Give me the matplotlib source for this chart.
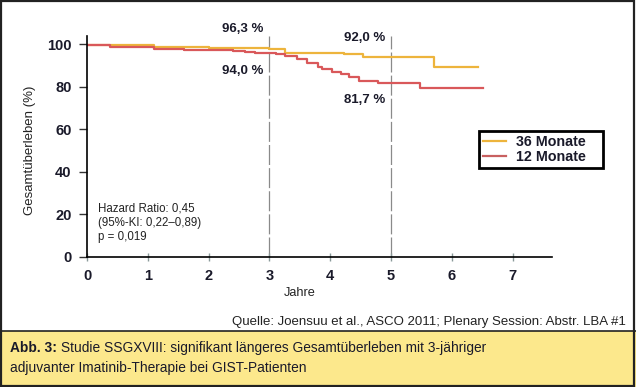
import matplotlib
matplotlib.use("Agg")
import matplotlib.pyplot as plt
from matplotlib import font_manager
from matplotlib.patches import Rectangle
from matplotlib.lines import Line2D

# Kaplan-Meier Stufen (Jahre, Gesamtüberleben %)
t_36 = [0, 1.1, 1.5, 2.0, 2.5, 3.0, 3.26, 4.22, 4.54, 5.70, 6.43]
s_36 = [99.8, 98.8, 98.6, 98.3, 98.0, 97.7, 96.0, 95.4, 94.1, 89.1, 89.1]

t_12 = [0, 0.38, 1.1, 1.6, 2.0, 2.4, 2.6, 2.77, 3.1, 3.26, 3.46, 3.62, 3.79,
        3.87, 4.03, 4.17, 4.31, 4.47, 4.78, 5.48, 6.51]
s_12 = [99.7, 98.8, 97.7, 97.3, 97.0, 96.8, 96.3, 95.7, 95.4, 94.4, 92.9, 91.0,
        89.4, 88.3, 87.0, 85.8, 84.7, 82.8, 81.6, 79.2, 79.2]

labels = ["36 Monate", "12 Monate"]
x_ticks = [0, 1, 2, 3, 4, 5, 6, 7]
y_ticks = [0, 20, 40, 60, 80, 100]
marker_years = [3, 5]
marker_texts = [("96,3 %", "94,0 %"), ("92,0 %", "81,7 %")]
stats_text = "Hazard Ratio: 0,45\n(95%-KI: 0,22\u20130,89)\np = 0,019"
source = "Quelle: Joensuu et al., ASCO 2011; Plenary Session: Abstr. LBA #1"
caption_bold = "Abb. 3:"
caption_1 = " Studie SSGXVIII: signifikant längeres Gesamtüberleben mit 3-jähriger"
caption_2 = "adjuvanter Imatinib-Therapie bei GIST-Patienten"

c_36 = "#EDB43C"
c_12 = "#D9585A"
c_yellow = "#FCE88C"
c_text = "#1a1a2a"

plt.rcParams["font.family"] = ["Liberation Sans", "DejaVu Sans"]

names = {f.name for f in font_manager.fontManager.ttflist}
if "Liberation Sans Narrow" in names:
    cap_family = ["Liberation Sans Narrow", "DejaVu Sans"]
    cap_size = 11.8
else:
    cap_family = ["Liberation Sans", "DejaVu Sans"]
    cap_size = 9.9

W, H = 636, 387
fig = plt.figure(figsize=(W / 100, H / 100), dpi=100)

def fx(px):
    return px / W

def fy(py):
    return 1 - py / H

ax = fig.add_axes([fx(87), fy(257), fx(551.7) - fx(87), fy(36) - fy(257)])
ax.set_xlim(0, 7.64)
ax.set_ylim(0, 103.8)

ax.step(t_36, s_36, where="post", color=c_36, lw=1.6, label=labels[0])
ax.step(t_12, s_12, where="post", color=c_12, lw=1.6, label=labels[1])

for yr in marker_years:
    ax.axvline(yr, color="#8a8a8a", lw=0.9, linestyle=(0, (16, 2.5)), zorder=0)

# Prozentwerte an den Markierungen
ax.text(2.895, 107.1, marker_texts[0][0], ha="right", va="center", fontsize=9.5,
        fontweight="bold", color=c_text, clip_on=False)
ax.text(2.895, 87.4, marker_texts[0][1], ha="right", va="center", fontsize=9.5,
        fontweight="bold", color=c_text)
ax.text(4.9, 103.0, marker_texts[1][0], ha="right", va="center", fontsize=9.5,
        fontweight="bold", color=c_text, clip_on=False)
ax.text(4.9, 73.7, marker_texts[1][1], ha="right", va="center", fontsize=9.5,
        fontweight="bold", color=c_text)

ax.text(0.186, 25.4, stats_text, ha="left", va="top", fontsize=8.3,
        color="#222222", linespacing=1.2)

ax.spines["top"].set_visible(False)
ax.spines["right"].set_visible(False)
ax.spines["left"].set_linewidth(1.2)
ax.spines["bottom"].set_linewidth(1.2)

ax.set_xticks(x_ticks)
ax.set_yticks(y_ticks)
ax.tick_params(axis="x", direction="inout", length=6, color="#8a9a9a", width=1,
               pad=6, labelsize=10.5, labelcolor=c_text)
ax.tick_params(axis="y", direction="out", length=6, color="#333333", width=1,
               pad=5, labelsize=10.5, labelcolor=c_text)
for lab in ax.get_xticklabels() + ax.get_yticklabels():
    lab.set_fontweight("bold")

fig.text(fx(300), fy(293.5), "Jahre", ha="center", va="center", fontsize=9.2,
         color="#222222")
fig.text(fx(30), fy(150), "Gesamtüberleben (%)", ha="center", va="center",
         rotation=90, fontsize=9.5, color="#222222")

leg = ax.legend(loc="upper left", bbox_to_anchor=(fx(479), fy(131)),
                bbox_transform=fig.transFigure, borderaxespad=0,
                frameon=False, handlelength=1.6, handletextpad=0.7,
                labelspacing=0.05, borderpad=0.3,
                prop={"weight": "bold", "size": 10.3})
for txt in leg.get_texts():
    txt.set_color(c_text)
leg.get_lines()[1].set_color("#C86060")
fig.patches.append(Rectangle((fx(479), fy(168)), fx(603) - fx(479), fy(131) - fy(168),
                             transform=fig.transFigure, facecolor="none",
                             edgecolor="black", lw=2, zorder=4))

fig.text(fx(626), fy(321.5), source, ha="right", va="center", fontsize=9.5,
         color="#222222")

# Bildunterschrift
fig.patches.append(Rectangle((0, 0), 1, fy(331), transform=fig.transFigure,
                             facecolor=c_yellow, edgecolor="none", zorder=0))
fig.lines.append(Line2D([0, 1], [fy(331), fy(331)], transform=fig.transFigure,
                        color="#222222", lw=1.2))
fig.patches.append(Rectangle((0.002, 0.003), 0.995, 0.994, transform=fig.transFigure,
                             facecolor="none", edgecolor="#222222", lw=1.6, zorder=5))

t1 = fig.text(fx(10), fy(348), caption_bold, ha="left", va="center",
              fontsize=cap_size, fontweight="bold", family=cap_family, color=c_text)
fig.canvas.draw()
bb = t1.get_window_extent()
fig.text(bb.x1 / W, fy(348), caption_1, ha="left", va="center",
         fontsize=cap_size, family=cap_family, color=c_text)
fig.text(fx(10), fy(368), caption_2, ha="left", va="center",
         fontsize=cap_size, family=cap_family, color=c_text)

fig.savefig("out.png", dpi=100)
